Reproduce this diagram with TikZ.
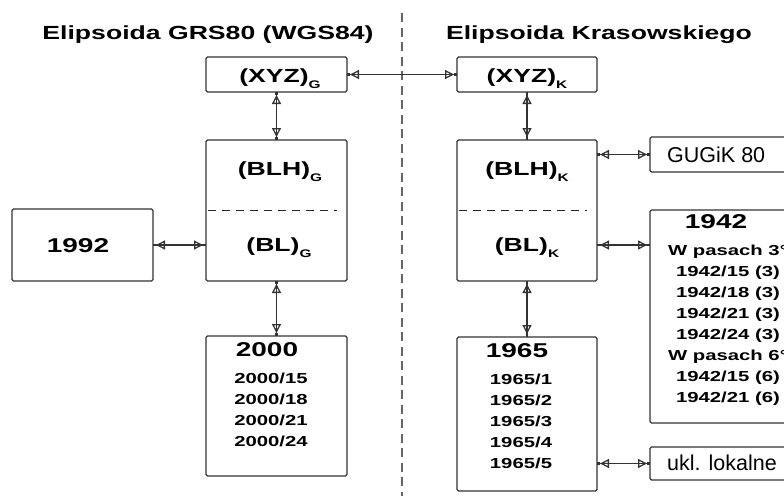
\documentclass[tikz,border=0pt]{standalone}
\usepackage{fontspec}
\setmainfont{Liberation Sans}
\newfontfamily\widefont[FakeStretch=1.4]{Liberation Sans}
\usetikzlibrary{arrows.meta}
\newcommand{\lowsub}[1]{\raisebox{-6pt}{\fontsize{11}{11}\selectfont #1}}

\begin{document}
\begin{tikzpicture}[x=1pt,y=-1pt,
	box/.style={draw=black!80, line width=1.2pt, rounded corners=1.5pt, inner sep=0pt, outer sep=0pt},
	lbl/.style={font=\widefont\bfseries\fontsize{19}{19}\selectfont, inner sep=0pt, anchor=base},
	big/.style={lbl, font=\widefont\bfseries\fontsize{20}{20}\selectfont},
	list/.style={font=\widefont\bfseries\fontsize{14.5}{21}\selectfont, align=center, inner sep=0pt, anchor=north},
	plain/.style={font=\fontsize{21.5}{21.5}\selectfont, inner sep=0pt, anchor=base west},
	link/.style={draw=black!80, line width=1.3pt,
		{Rectangle[length=3pt,width=2.4pt] Triangle[open,length=9pt,width=9pt]}-{Triangle[open,length=9pt,width=9pt] Rectangle[length=3pt,width=2.4pt]}},
	divider/.style={draw=black!85, line width=1.3pt, dash pattern=on 8pt off 6pt, shorten <=2pt, shorten >=10pt}]
	\useasboundingbox (0,0) rectangle (784,496);
	\clip (0,0) rectangle (784,496);

	% titles
	\node[lbl] (tGRS) at (208,39.5) {Elipsoida GRS80 (WGS84)};
	\node[lbl] (tKras) at (599,39.5) {Elipsoida Krasowskiego};
	\draw[draw=black!60, line width=1.2pt, dash pattern=on 9pt off 5.5pt] (402,13) -- (402,496);

	% GRS80 side
	\node[box, minimum width=141pt, minimum height=35pt] (xyzG) at (276.5,74.5) {};
	\node[box, minimum width=141pt, minimum height=141pt] (blhG) at (276.5,210.5) {};
	\node[box, minimum width=141pt, minimum height=72pt] (n1992) at (82.5,245) {};
	\node[box, minimum width=141pt, minimum height=140pt] (n2000) at (276.5,406) {};
	\draw[divider] (blhG.west) -- (blhG.east);
	\node[lbl] (lxyzG) at (280,82) {(XYZ)\lowsub{G}};
	\node[lbl] (lblhG) at (280,175) {(BLH)\lowsub{G}};
	\node[lbl] (lblG) at (279,251) {(BL)\lowsub{G}};
	\node[big] (l1992) at (78,252) {1992};
	\node[list] (l2000) at (271,342) {{\fontsize{20}{20}\selectfont 2000\kern8pt}\\[6pt]2000/15\\2000/18\\2000/21\\2000/24};

	% Krasowski side
	\node[box, minimum width=140pt, minimum height=35pt] (xyzK) at (527,74.5) {};
	\node[box, minimum width=140pt, minimum height=141pt] (blhK) at (527,210.5) {};
	\node[box, minimum width=140pt, minimum height=154pt] (n1965) at (527,414) {};
	\node[box, minimum width=150pt, minimum height=35pt] (gugik) at (725,154.5) {};
	\node[box, minimum width=156pt, minimum height=213pt] (n1942) at (728,316.5) {};
	\node[box, minimum width=150pt, minimum height=33pt] (ukl) at (725,463.5) {};
	\draw[divider] (blhK.west) -- (blhK.east);
	\node[lbl] (lxyzK) at (527,82) {(XYZ)\lowsub{K}};
	\node[lbl] (lblhK) at (527,175) {(BLH)\lowsub{K}};
	\node[lbl] (lblK) at (527,251) {(BL)\lowsub{K}};
	\node[list] (l1965) at (521,343) {{\fontsize{20}{20}\selectfont 1965\kern8pt}\\[6pt]1965/1\\1965/2\\1965/3\\1965/4\\1965/5};
	\node[list] (l1942) at (728,214) {{\fontsize{20}{20}\selectfont 1942\kern24pt}\\[6pt]W pasach 3°\\1942/15 (3)\\1942/18 (3)\\1942/21 (3)\\1942/24 (3)\\W pasach 6°\\1942/15 (6)\\1942/21 (6)};
	\node[plain] (lgugik) at (667,162) {GUGiK 80};
	\node[plain] (lukl) at (667,470) {ukl. lokalne};

	% connections
	\draw[link] (xyzG) -- (xyzK);
	\draw[link] (xyzG) -- (blhG);
	\draw[link] (n1992.east) -- (n1992.east -| blhG.west);
	\draw[link] (blhG) -- (n2000);
	\draw[link] (xyzK) -- (blhK);
	\draw[link] (blhK) -- (n1965);
	\draw[link] (gugik.west -| blhK.east) -- (gugik.west);
	\draw[link] (n1992.east -| blhK.east) -- (n1992.east -| n1942.west);
	\draw[link] (ukl.west -| n1965.east) -- (ukl.west);
\end{tikzpicture}
\end{document}
